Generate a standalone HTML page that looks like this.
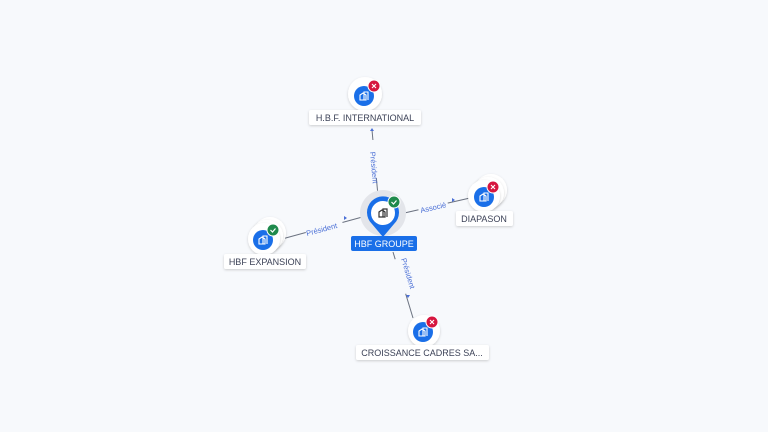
<!DOCTYPE html>
<html><head><meta charset="utf-8"><style>
html,body{margin:0;padding:0;background:#f7f9fc;}
svg{display:block;font-family:"Liberation Sans",sans-serif;}
</style></head><body>
<svg width="768" height="432" viewBox="0 0 768 432" xmlns="http://www.w3.org/2000/svg">
<defs>
<filter id="sh" x="-50%" y="-50%" width="200%" height="200%"><feDropShadow dx="0" dy="1" stdDeviation="1.2" flood-color="#000" flood-opacity="0.18"/></filter>
<g id="bld"><path d="M-4,4 V-1 L-1,-3 L2,-1 V4 Z M0,4 V-4 H4 V4" fill="none" stroke="#fff" stroke-width="1.1"/></g>
</defs>
<rect width="768" height="432" fill="#f7f9fc"/>
<g stroke="#6b7280" stroke-width="1" fill="none">
<line x1="378" y1="196" x2="372" y2="130"/>
<line x1="400" y1="214" x2="470" y2="198"/>
<line x1="366" y1="216" x2="282" y2="239"/>
<line x1="393" y1="252" x2="413" y2="318"/>
</g>
<g font-size="7.5" fill="#4a6fd6">
<rect x="366" y="140" width="12" height="38" fill="#f7f9fc"/>
<text transform="translate(370,152) rotate(85)">Président</text>
<rect x="418" y="200" width="30" height="11" fill="#f7f9fc" transform="rotate(-13 433 206)"/>
<text transform="translate(421,213) rotate(-13)">Associé</text>
<rect x="305" y="222" width="38" height="11" fill="#f7f9fc" transform="rotate(-15 324 227)"/>
<text transform="translate(307,236) rotate(-15)">Président</text>
<rect x="396" y="258" width="12" height="36" fill="#f7f9fc" transform="rotate(-17 402 276)"/>
<text transform="translate(401,259) rotate(73)">Président</text>
</g>
<g fill="#4a6fd6">
<path d="M372,128 l-2,3 h4 z"/>
<path d="M455,200 l-3,-2 v4 z"/>
<path d="M347,218 l-3,-2 v4 z"/>
<path d="M406,295 h4 l-2,3 z"/>
</g>
<circle cx="383" cy="213" r="23" fill="#e3e5ea"/>
<path d="M383,237 L372,224 A16,16 0 1 1 394,224 Z" fill="#1a6fe8"/>
<circle cx="383" cy="213" r="12" fill="#fff"/>
<g transform="translate(383,213)"><path d="M-4,4 V-1 L-1,-3 L2,-1 V4 Z M0,4 V-4 H4 V4" fill="none" stroke="#333" stroke-width="1.2"/></g>
<circle cx="394" cy="202" r="6" fill="#1f8a4c" stroke="#fff" stroke-width="1"/>
<path d="M391.5,202 l2,2 l3,-3.5" stroke="#fff" stroke-width="1.2" fill="none"/>
<rect x="351" y="236" width="66" height="15" rx="2" fill="#1a6fe8"/>
<text x="384" y="247" font-size="9" fill="#fff" text-anchor="middle">HBF GROUPE</text>

<circle cx="365" cy="94" r="17" fill="#fff" filter="url(#sh)"/>
<circle cx="364" cy="96" r="10" fill="#1a6fe8"/>
<use href="#bld" x="364" y="96"/>
<circle cx="374" cy="86" r="6" fill="#d6163f" stroke="#fff" stroke-width="1"/>
<path d="M372,84 l4,4 M376,84 l-4,4" stroke="#fff" stroke-width="1.1"/>
<rect x="309" y="110" width="112" height="15" rx="2" fill="#fff" filter="url(#sh)"/>
<text x="365" y="121" font-size="9" fill="#3c4257" text-anchor="middle">H.B.F. INTERNATIONAL</text>

<circle cx="491" cy="190" r="16" fill="#fff" filter="url(#sh)"/>
<circle cx="488" cy="193" r="16" fill="#fff" filter="url(#sh)"/>
<circle cx="484" cy="196" r="16" fill="#fff" filter="url(#sh)"/>
<circle cx="484" cy="197" r="10" fill="#1a6fe8"/>
<use href="#bld" x="484" y="197"/>
<circle cx="493" cy="187" r="6" fill="#d6163f" stroke="#fff" stroke-width="1"/>
<path d="M491,185 l4,4 M495,185 l-4,4" stroke="#fff" stroke-width="1.1"/>
<rect x="456" y="211" width="57" height="15" rx="2" fill="#fff" filter="url(#sh)"/>
<text x="484" y="222" font-size="9" fill="#3c4257" text-anchor="middle">DIAPASON</text>

<circle cx="270" cy="233" r="16" fill="#fff" filter="url(#sh)"/>
<circle cx="267" cy="236" r="16" fill="#fff" filter="url(#sh)"/>
<circle cx="264" cy="239" r="16" fill="#fff" filter="url(#sh)"/>
<circle cx="263" cy="240" r="10" fill="#1a6fe8"/>
<use href="#bld" x="263" y="240"/>
<circle cx="273" cy="230" r="6" fill="#1f8a4c" stroke="#fff" stroke-width="1"/>
<path d="M270.5,230 l2,2 l3,-3.5" stroke="#fff" stroke-width="1.2" fill="none"/>
<rect x="224" y="254" width="82" height="15" rx="2" fill="#fff" filter="url(#sh)"/>
<text x="265" y="265" font-size="9" fill="#3c4257" text-anchor="middle">HBF EXPANSION</text>

<circle cx="424" cy="331" r="16" fill="#fff" filter="url(#sh)"/>
<circle cx="423" cy="332" r="10" fill="#1a6fe8"/>
<use href="#bld" x="423" y="332"/>
<circle cx="432" cy="322" r="6" fill="#d6163f" stroke="#fff" stroke-width="1"/>
<path d="M430,320 l4,4 M434,320 l-4,4" stroke="#fff" stroke-width="1.1"/>
<rect x="356" y="345" width="133" height="15" rx="2" fill="#fff" filter="url(#sh)"/>
<text x="422" y="356" font-size="9" fill="#3c4257" text-anchor="middle">CROISSANCE CADRES SA...</text>
</svg>
</body></html>
